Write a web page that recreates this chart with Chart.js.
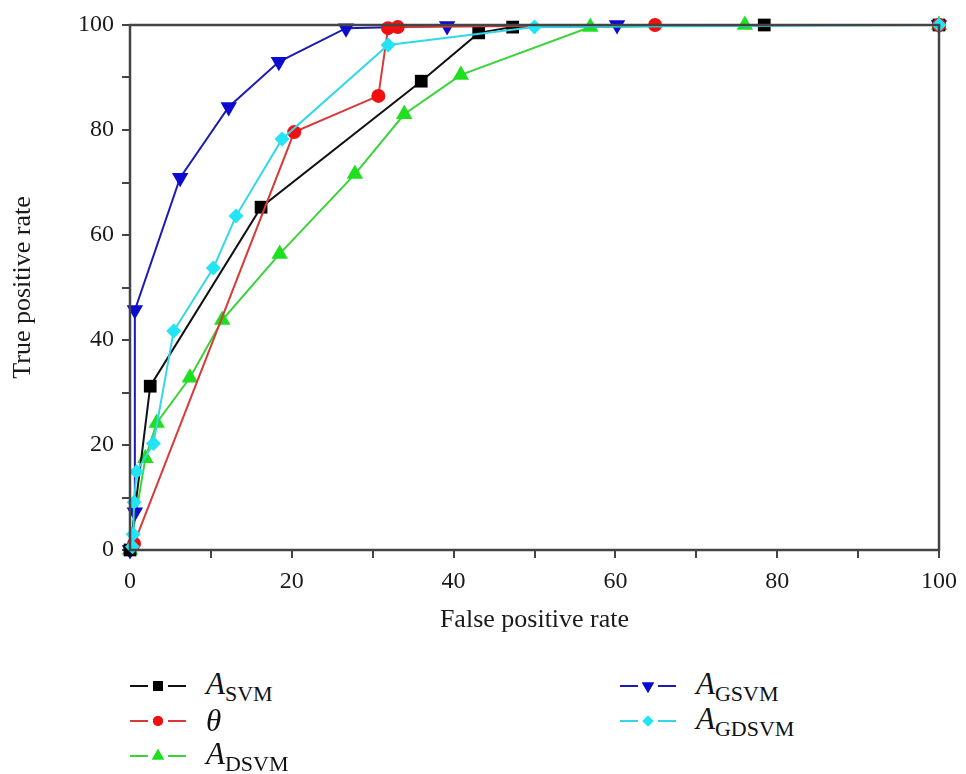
<!DOCTYPE html>
<html>
<head>
<meta charset="utf-8">
<script src="https://cdn.jsdelivr.net/npm/chart.js@4"></script>
<style>
  body { margin: 0; background: #fff; width: 966px; height: 774px; overflow: hidden; font-family: "Liberation Serif", "DejaVu Serif", serif; }
  #wrap { position: relative; width: 966px; height: 640px; }
  .leg { position: absolute; display: flex; align-items: center; height: 34px; color: #111; }
  .leg canvas { margin-right: 20px; }
  .leg .a { font-style: italic; font-size: 31px; }
  .leg sub { font-size: 22px; font-style: normal; vertical-align: -7px; }
</style>
</head>
<body>
<div id="wrap"><canvas id="roc" width="966" height="640"></canvas></div>
<div id="legend"></div>
<script>
// ROC curves, values (percent)
const fprSvm = [0, 2.5, 16.2, 36.0, 43.1, 47.3, 78.4, 100];
const tprSvm = [0, 31.2, 65.3, 89.3, 98.5, 99.6, 100, 100];

const fprTheta = [0.5, 20.3, 30.7, 31.9, 33.1, 64.9, 100];
const tprTheta = [1.2, 79.6, 86.5, 99.4, 99.6, 100, 100];

const fprDsvm = [0, 1.9, 3.3, 7.4, 11.4, 18.5, 27.8, 33.9, 40.9, 56.9, 76.0, 100];
const tprDsvm = [0, 17.5, 24.2, 32.8, 43.8, 56.4, 71.6, 83.0, 90.5, 99.6, 100, 100];

const fprGsvm = [0, 0.6, 0.6, 6.2, 12.2, 18.4, 26.7, 39.2, 60.2, 100];
const tprGsvm = [0, 7.2, 45.7, 70.9, 84.4, 93.0, 99.4, 99.8, 100, 100];

const fprGdsvm = [0.3, 0.4, 0.5, 0.8, 2.9, 5.4, 10.3, 13.1, 18.8, 31.9, 50.0, 100];
const tprGdsvm = [0.6, 3.0, 9.1, 14.9, 20.3, 41.7, 53.7, 63.6, 78.3, 96.2, 99.6, 100];

const xTicks = [0, 20, 40, 60, 80, 100];
const yTicks = [0, 20, 40, 60, 80, 100];

const pts = (xs, ys) => xs.map((x, i) => ({ x: x, y: ys[i] }));

const series = [
  { name: "SVM", italic: "A", data: pts(fprSvm, tprSvm), color: "#000000", line: "#111111", style: "rect", rot: 0, r: 9, lr: 7, order: 2 },
  { name: "", italic: "θ", data: pts(fprTheta, tprTheta), color: "#f01010", line: "#d83a3a", style: "circle", rot: 0, r: 7, lr: 5, order: 1 },
  { name: "DSVM", italic: "A", data: pts(fprDsvm, tprDsvm), color: "#1ee01e", line: "#3ad43a", style: "triangle", rot: 0, r: 9.5, lr: 7, order: 4 },
  { name: "GSVM", italic: "A", data: pts(fprGsvm, tprGsvm), color: "#0a0ad0", line: "#1c1cb0", style: "triangle", rot: 180, r: 9.5, lr: 7, order: 3 },
  { name: "GDSVM", italic: "A", data: pts(fprGdsvm, tprGdsvm), color: "#22e4f4", line: "#30d8e8", style: "rectRot", rot: 0, r: 7.5, lr: 5.5, order: 0 }
];

const frame = {
  id: "frame",
  afterDatasetsDraw(chart) {
    const a = chart.chartArea, c = chart.ctx;
    c.save();
    c.strokeStyle = "#444";
    c.lineWidth = 2.5;
    c.strokeRect(a.left, a.top, a.right - a.left, a.bottom - a.top);
    c.restore();
  }
};

const serif = "'Liberation Serif', 'DejaVu Serif', serif";
const allTicks = [0, 10, 20, 30, 40, 50, 60, 70, 80, 90, 100];

new Chart(document.getElementById("roc"), {
  type: "scatter",
  data: {
    datasets: series.map(s => ({
      label: s.italic + s.name,
      data: s.data,
      showLine: true,
      borderColor: s.line,
      borderWidth: 2,
      backgroundColor: s.color,
      pointBackgroundColor: s.color,
      pointBorderColor: s.color,
      pointBorderWidth: 0,
      pointStyle: s.style,
      pointRotation: s.rot,
      pointRadius: s.r,
      order: s.order,
      clip: false
    }))
  },
  options: {
    responsive: false,
    animation: false,
    layout: { padding: { left: 8, top: 25, right: 27, bottom: 0 } },
    plugins: { legend: { display: false }, tooltip: { enabled: false } },
    scales: {
      x: {
        type: "linear", min: 0, max: 100,
        afterBuildTicks: sc => { sc.ticks = allTicks.map(v => ({ value: v })); },
        ticks: {
          color: "#1a1a1a", padding: 9,
          font: { family: serif, size: 24 },
          callback: v => xTicks.includes(v) ? String(v) : ""
        },
        grid: { drawOnChartArea: false, drawTicks: true, tickLength: 8, color: "#444", lineWidth: 2 },
        border: { display: false },
        title: { display: true, text: "False positive rate", color: "#1a1a1a", font: { family: serif, size: 26 }, padding: { top: 6 } },
        afterFit: sc => { sc.height = 90; }
      },
      y: {
        type: "linear", min: 0, max: 100,
        afterBuildTicks: sc => { sc.ticks = allTicks.map(v => ({ value: v })); },
        ticks: {
          color: "#1a1a1a", padding: 8,
          font: { family: serif, size: 24 },
          callback: v => yTicks.includes(v) ? String(v) : ""
        },
        grid: { drawOnChartArea: false, drawTicks: true, tickLength: 8, color: "#444", lineWidth: 2 },
        border: { display: false },
        title: { display: true, text: "True positive rate", color: "#1a1a1a", font: { family: serif, size: 26 }, padding: { top: 0, bottom: 0 } },
        afterFit: sc => { sc.width = 122; }
      }
    }
  },
  plugins: [frame]
});

// legend below the chart, two columns
const legPos = [[130, 669], [130, 704], [130, 739], [620, 669], [620, 704]];
const legend = document.getElementById("legend");
series.forEach((s, i) => {
  const div = document.createElement("div");
  div.className = "leg";
  div.style.left = legPos[i][0] + "px";
  div.style.top = legPos[i][1] + "px";
  const cv = document.createElement("canvas");
  cv.width = 56; cv.height = 20;
  const c = cv.getContext("2d");
  c.strokeStyle = s.line; c.lineWidth = 2;
  c.beginPath(); c.moveTo(0, 10); c.lineTo(18, 10); c.moveTo(38, 10); c.lineTo(56, 10); c.stroke();
  c.fillStyle = s.color;
  Chart.helpers.drawPoint(c, { pointStyle: s.style, rotation: s.rot, radius: s.lr, borderWidth: 0 }, 28, 10);
  c.fill();
  div.appendChild(cv);
  const t = document.createElement("span");
  t.innerHTML = '<span class="a">' + s.italic + "</span>" + (s.name ? "<sub>" + s.name + "</sub>" : "");
  div.appendChild(t);
  legend.appendChild(div);
});
</script>
</body>
</html>
